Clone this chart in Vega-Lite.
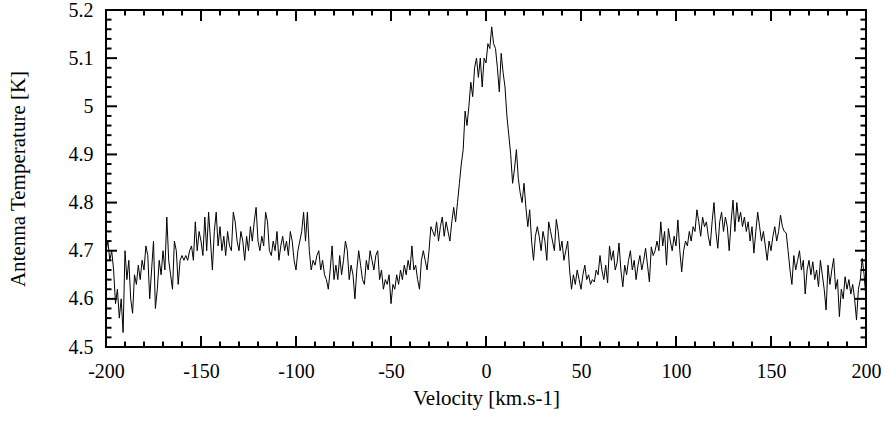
{
  "$schema": "https://vega.github.io/schema/vega-lite/v6.json",
  "autosize": "none",
  "width": 760,
  "height": 337,
  "padding": {"left": 106, "top": 10, "right": 19, "bottom": 74},
  "background": "white",
  "config": {
    "locale": {"number": {"decimal": ".", "thousands": ",", "grouping": [3], "currency": ["$", ""], "minus": "-"}},
    "view": {"stroke": "black", "strokeWidth": 2},
    "font": "Liberation Serif",
    "axis": {
      "grid": false,
      "domain": false,
      "ticks": false,
      "labelFont": "Liberation Serif",
      "labelFontSize": 20,
      "labelColor": "black",
      "labelFlush": false,
      "titleFont": "Liberation Serif",
      "titleFontSize": 21,
      "titleFontWeight": "normal",
      "titleColor": "black"
    }
  },
  "datasets": {
    "xmaj": [{"p":-200},{"p":-150},{"p":-100},{"p":-50},{"p":0},{"p":50},{"p":100},{"p":150},{"p":200}],
    "xmin": [{"p":-190},{"p":-180},{"p":-170},{"p":-160},{"p":-140},{"p":-130},{"p":-120},{"p":-110},{"p":-90},{"p":-80},{"p":-70},{"p":-60},{"p":-40},{"p":-30},{"p":-20},{"p":-10},{"p":10},{"p":20},{"p":30},{"p":40},{"p":60},{"p":70},{"p":80},{"p":90},{"p":110},{"p":120},{"p":130},{"p":140},{"p":160},{"p":170},{"p":180},{"p":190}],
    "ymaj": [{"p":4.5},{"p":4.6},{"p":4.7},{"p":4.8},{"p":4.9},{"p":5.0},{"p":5.1},{"p":5.2}],
    "ymin": [{"p":4.52},{"p":4.54},{"p":4.56},{"p":4.58},{"p":4.62},{"p":4.64},{"p":4.66},{"p":4.68},{"p":4.72},{"p":4.74},{"p":4.76},{"p":4.78},{"p":4.82},{"p":4.84},{"p":4.86},{"p":4.88},{"p":4.92},{"p":4.94},{"p":4.96},{"p":4.98},{"p":5.02},{"p":5.04},{"p":5.06},{"p":5.08},{"p":5.12},{"p":5.14},{"p":5.16},{"p":5.18}],
    "spec": [
{"v":-200,"t":4.70},{"v":-199,"t":4.72},{"v":-198,"t":4.68},{"v":-197,"t":4.70},{"v":-196,"t":4.66},{"v":-195,"t":4.59},{"v":-194,"t":4.62},{"v":-193,"t":4.56},{"v":-192,"t":4.60},{"v":-191,"t":4.53},
{"v":-190,"t":4.70},{"v":-189,"t":4.64},{"v":-188,"t":4.68},{"v":-187,"t":4.60},{"v":-186,"t":4.57},{"v":-185,"t":4.65},{"v":-184,"t":4.63},{"v":-183,"t":4.67},{"v":-182,"t":4.64},{"v":-181,"t":4.68},
{"v":-180,"t":4.66},{"v":-179,"t":4.71},{"v":-178,"t":4.69},{"v":-177,"t":4.60},{"v":-176,"t":4.66},{"v":-175,"t":4.72},{"v":-174,"t":4.58},{"v":-173,"t":4.62},{"v":-172,"t":4.68},{"v":-171,"t":4.65},
{"v":-170,"t":4.70},{"v":-169,"t":4.66},{"v":-168,"t":4.77},{"v":-167,"t":4.68},{"v":-166,"t":4.65},{"v":-165,"t":4.62},{"v":-164,"t":4.72},{"v":-163,"t":4.70},{"v":-162,"t":4.63},{"v":-161,"t":4.68},
{"v":-160,"t":4.69},{"v":-159,"t":4.68},{"v":-158,"t":4.69},{"v":-157,"t":4.68},{"v":-156,"t":4.70},{"v":-155,"t":4.71},{"v":-154,"t":4.68},{"v":-153,"t":4.76},{"v":-152,"t":4.70},{"v":-151,"t":4.74},
{"v":-150,"t":4.72},{"v":-149,"t":4.69},{"v":-148,"t":4.77},{"v":-147,"t":4.70},{"v":-146,"t":4.78},{"v":-145,"t":4.72},{"v":-144,"t":4.66},{"v":-143,"t":4.74},{"v":-142,"t":4.78},{"v":-141,"t":4.71},
{"v":-140,"t":4.75},{"v":-139,"t":4.70},{"v":-138,"t":4.73},{"v":-137,"t":4.69},{"v":-136,"t":4.74},{"v":-135,"t":4.71},{"v":-134,"t":4.70},{"v":-133,"t":4.78},{"v":-132,"t":4.76},{"v":-131,"t":4.72},
{"v":-130,"t":4.70},{"v":-129,"t":4.74},{"v":-128,"t":4.72},{"v":-127,"t":4.68},{"v":-126,"t":4.73},{"v":-125,"t":4.70},{"v":-124,"t":4.75},{"v":-123,"t":4.72},{"v":-122,"t":4.76},{"v":-121,"t":4.79},
{"v":-120,"t":4.72},{"v":-119,"t":4.70},{"v":-118,"t":4.73},{"v":-117,"t":4.71},{"v":-116,"t":4.78},{"v":-115,"t":4.76},{"v":-114,"t":4.70},{"v":-113,"t":4.69},{"v":-112,"t":4.72},{"v":-111,"t":4.70},
{"v":-110,"t":4.74},{"v":-109,"t":4.68},{"v":-108,"t":4.71},{"v":-107,"t":4.73},{"v":-106,"t":4.70},{"v":-105,"t":4.72},{"v":-104,"t":4.69},{"v":-103,"t":4.74},{"v":-102,"t":4.72},{"v":-101,"t":4.68},
{"v":-100,"t":4.66},{"v":-99,"t":4.70},{"v":-98,"t":4.72},{"v":-97,"t":4.74},{"v":-96,"t":4.78},{"v":-95,"t":4.72},{"v":-94,"t":4.78},{"v":-93,"t":4.70},{"v":-92,"t":4.66},{"v":-91,"t":4.68},
{"v":-90,"t":4.67},{"v":-89,"t":4.69},{"v":-88,"t":4.70},{"v":-87,"t":4.66},{"v":-86,"t":4.68},{"v":-85,"t":4.65},{"v":-84,"t":4.64},{"v":-83,"t":4.62},{"v":-82,"t":4.66},{"v":-81,"t":4.71},
{"v":-80,"t":4.64},{"v":-79,"t":4.67},{"v":-78,"t":4.64},{"v":-77,"t":4.69},{"v":-76,"t":4.65},{"v":-75,"t":4.68},{"v":-74,"t":4.72},{"v":-73,"t":4.70},{"v":-72,"t":4.64},{"v":-71,"t":4.67},
{"v":-70,"t":4.65},{"v":-69,"t":4.60},{"v":-68,"t":4.66},{"v":-67,"t":4.70},{"v":-66,"t":4.67},{"v":-65,"t":4.64},{"v":-64,"t":4.63},{"v":-63,"t":4.68},{"v":-62,"t":4.66},{"v":-61,"t":4.70},
{"v":-60,"t":4.68},{"v":-59,"t":4.66},{"v":-58,"t":4.69},{"v":-57,"t":4.70},{"v":-56,"t":4.64},{"v":-55,"t":4.66},{"v":-54,"t":4.62},{"v":-53,"t":4.64},{"v":-52,"t":4.63},{"v":-51,"t":4.65},
{"v":-50,"t":4.59},{"v":-49,"t":4.63},{"v":-48,"t":4.62},{"v":-47,"t":4.65},{"v":-46,"t":4.63},{"v":-45,"t":4.66},{"v":-44,"t":4.64},{"v":-43,"t":4.67},{"v":-42,"t":4.65},{"v":-41,"t":4.68},
{"v":-40,"t":4.66},{"v":-39,"t":4.71},{"v":-38,"t":4.66},{"v":-37,"t":4.67},{"v":-36,"t":4.64},{"v":-35,"t":4.62},{"v":-34,"t":4.68},{"v":-33,"t":4.70},{"v":-32,"t":4.68},{"v":-31,"t":4.66},
{"v":-30,"t":4.70},{"v":-29,"t":4.75},{"v":-28,"t":4.74},{"v":-27,"t":4.73},{"v":-26,"t":4.76},{"v":-25,"t":4.72},{"v":-24,"t":4.75},{"v":-23,"t":4.77},{"v":-22,"t":4.73},{"v":-21,"t":4.76},
{"v":-20,"t":4.74},{"v":-19,"t":4.72},{"v":-18,"t":4.76},{"v":-17,"t":4.79},{"v":-16,"t":4.76},{"v":-15,"t":4.80},{"v":-14,"t":4.84},{"v":-13,"t":4.88},{"v":-12,"t":4.91},{"v":-11,"t":4.99},
{"v":-10,"t":4.96},{"v":-9,"t":5.00},{"v":-8,"t":5.05},{"v":-7,"t":5.02},{"v":-6,"t":5.08},{"v":-5,"t":5.10},{"v":-4,"t":5.06},{"v":-3,"t":5.10},{"v":-2,"t":5.04},{"v":-1,"t":5.10},
{"v":0,"t":5.09},{"v":1,"t":5.13},{"v":2,"t":5.12},{"v":3,"t":5.165},{"v":4,"t":5.13},{"v":5,"t":5.12},{"v":6,"t":5.08},{"v":7,"t":5.03},{"v":8,"t":5.11},{"v":9,"t":5.07},
{"v":10,"t":5.04},{"v":11,"t":4.98},{"v":12,"t":4.94},{"v":13,"t":4.90},{"v":14,"t":4.84},{"v":15,"t":4.87},{"v":16,"t":4.91},{"v":17,"t":4.85},{"v":18,"t":4.82},{"v":19,"t":4.80},
{"v":20,"t":4.84},{"v":21,"t":4.79},{"v":22,"t":4.75},{"v":23,"t":4.785},{"v":24,"t":4.72},{"v":25,"t":4.68},{"v":26,"t":4.73},{"v":27,"t":4.75},{"v":28,"t":4.73},{"v":29,"t":4.70},
{"v":30,"t":4.74},{"v":31,"t":4.72},{"v":32,"t":4.68},{"v":33,"t":4.76},{"v":34,"t":4.74},{"v":35,"t":4.72},{"v":36,"t":4.70},{"v":37,"t":4.765},{"v":38,"t":4.74},{"v":39,"t":4.70},
{"v":40,"t":4.72},{"v":41,"t":4.68},{"v":42,"t":4.70},{"v":43,"t":4.72},{"v":44,"t":4.66},{"v":45,"t":4.62},{"v":46,"t":4.65},{"v":47,"t":4.63},{"v":48,"t":4.66},{"v":49,"t":4.64},
{"v":50,"t":4.62},{"v":51,"t":4.65},{"v":52,"t":4.67},{"v":53,"t":4.64},{"v":54,"t":4.65},{"v":55,"t":4.63},{"v":56,"t":4.64},{"v":57,"t":4.635},{"v":58,"t":4.66},{"v":59,"t":4.65},
{"v":60,"t":4.69},{"v":61,"t":4.66},{"v":62,"t":4.64},{"v":63,"t":4.67},{"v":64,"t":4.633},{"v":65,"t":4.71},{"v":66,"t":4.68},{"v":67,"t":4.70},{"v":68,"t":4.66},{"v":69,"t":4.675},
{"v":70,"t":4.716},{"v":71,"t":4.66},{"v":72,"t":4.625},{"v":73,"t":4.67},{"v":74,"t":4.65},{"v":75,"t":4.68},{"v":76,"t":4.70},{"v":77,"t":4.66},{"v":78,"t":4.68},{"v":79,"t":4.64},
{"v":80,"t":4.67},{"v":81,"t":4.69},{"v":82,"t":4.66},{"v":83,"t":4.68},{"v":84,"t":4.705},{"v":85,"t":4.67},{"v":86,"t":4.635},{"v":87,"t":4.708},{"v":88,"t":4.69},{"v":89,"t":4.70},
{"v":90,"t":4.72},{"v":91,"t":4.70},{"v":92,"t":4.76},{"v":93,"t":4.71},{"v":94,"t":4.74},{"v":95,"t":4.67},{"v":96,"t":4.746},{"v":97,"t":4.72},{"v":98,"t":4.70},{"v":99,"t":4.73},
{"v":100,"t":4.71},{"v":101,"t":4.764},{"v":102,"t":4.70},{"v":103,"t":4.656},{"v":104,"t":4.70},{"v":105,"t":4.72},{"v":106,"t":4.71},{"v":107,"t":4.74},{"v":108,"t":4.72},{"v":109,"t":4.75},
{"v":110,"t":4.74},{"v":111,"t":4.785},{"v":112,"t":4.76},{"v":113,"t":4.73},{"v":114,"t":4.77},{"v":115,"t":4.75},{"v":116,"t":4.76},{"v":117,"t":4.73},{"v":118,"t":4.71},{"v":119,"t":4.76},
{"v":120,"t":4.80},{"v":121,"t":4.74},{"v":122,"t":4.705},{"v":123,"t":4.76},{"v":124,"t":4.78},{"v":125,"t":4.74},{"v":126,"t":4.77},{"v":127,"t":4.75},{"v":128,"t":4.70},{"v":129,"t":4.76},
{"v":130,"t":4.805},{"v":131,"t":4.74},{"v":132,"t":4.80},{"v":133,"t":4.76},{"v":134,"t":4.78},{"v":135,"t":4.75},{"v":136,"t":4.77},{"v":137,"t":4.74},{"v":138,"t":4.76},{"v":139,"t":4.72},
{"v":140,"t":4.75},{"v":141,"t":4.695},{"v":142,"t":4.74},{"v":143,"t":4.78},{"v":144,"t":4.75},{"v":145,"t":4.72},{"v":146,"t":4.74},{"v":147,"t":4.71},{"v":148,"t":4.68},{"v":149,"t":4.72},
{"v":150,"t":4.70},{"v":151,"t":4.73},{"v":152,"t":4.75},{"v":153,"t":4.72},{"v":154,"t":4.74},{"v":155,"t":4.774},{"v":156,"t":4.75},{"v":157,"t":4.74},{"v":158,"t":4.737},{"v":159,"t":4.70},
{"v":160,"t":4.66},{"v":161,"t":4.63},{"v":162,"t":4.69},{"v":163,"t":4.66},{"v":164,"t":4.68},{"v":165,"t":4.70},{"v":166,"t":4.66},{"v":167,"t":4.68},{"v":168,"t":4.61},{"v":169,"t":4.66},
{"v":170,"t":4.68},{"v":171,"t":4.65},{"v":172,"t":4.677},{"v":173,"t":4.64},{"v":174,"t":4.66},{"v":175,"t":4.625},{"v":176,"t":4.68},{"v":177,"t":4.65},{"v":178,"t":4.62},{"v":179,"t":4.577},
{"v":180,"t":4.67},{"v":181,"t":4.63},{"v":182,"t":4.66},{"v":183,"t":4.684},{"v":184,"t":4.62},{"v":185,"t":4.64},{"v":186,"t":4.563},{"v":187,"t":4.62},{"v":188,"t":4.60},{"v":189,"t":4.646},
{"v":190,"t":4.62},{"v":191,"t":4.64},{"v":192,"t":4.61},{"v":193,"t":4.63},{"v":194,"t":4.60},{"v":195,"t":4.556},{"v":196,"t":4.62},{"v":197,"t":4.64},{"v":198,"t":4.684},{"v":199,"t":4.65},
{"v":200,"t":4.60}
    ]
  },
  "layer": [
    {
      "data": {"name": "spec"},
      "mark": {"type": "line", "color": "black", "strokeWidth": 1},
      "encoding": {
        "x": {
          "field": "v", "type": "quantitative",
          "scale": {"domain": [-200, 200], "nice": false},
          "axis": {
            "orient": "bottom",
            "title": "Velocity [km.s-1]",
            "titlePadding": 6,
            "labelPadding": 14,
            "format": "d",
            "values": [-200,-150,-100,-50,0,50,100,150,200]
          }
        },
        "y": {
          "field": "t", "type": "quantitative",
          "scale": {"domain": [4.5, 5.2], "nice": false, "zero": false},
          "axis": {
            "orient": "left",
            "title": "Antenna Temperature [K]",
            "titlePadding": 40,
            "labelPadding": 13,
            "format": ".1~f",
            "values": [4.5,4.6,4.7,4.8,4.9,5,5.1,5.2]
          }
        }
      }
    },
    {
      "data": {"name": "xmaj"},
      "mark": {"type": "rule", "color": "black", "strokeWidth": 2, "y2Offset": -11},
      "encoding": {
        "x": {"field": "p", "type": "quantitative", "axis": null},
        "y": {"datum": 4.5, "axis": null},
        "y2": {"datum": 4.5}
      }
    },
    {
      "data": {"name": "xmaj"},
      "mark": {"type": "rule", "color": "black", "strokeWidth": 2, "y2Offset": 11},
      "encoding": {
        "x": {"field": "p", "type": "quantitative", "axis": null},
        "y": {"datum": 5.2, "axis": null},
        "y2": {"datum": 5.2}
      }
    },
    {
      "data": {"name": "xmin"},
      "mark": {"type": "rule", "color": "black", "strokeWidth": 2, "y2Offset": -5.5},
      "encoding": {
        "x": {"field": "p", "type": "quantitative", "axis": null},
        "y": {"datum": 4.5, "axis": null},
        "y2": {"datum": 4.5}
      }
    },
    {
      "data": {"name": "xmin"},
      "mark": {"type": "rule", "color": "black", "strokeWidth": 2, "y2Offset": 5.5},
      "encoding": {
        "x": {"field": "p", "type": "quantitative", "axis": null},
        "y": {"datum": 5.2, "axis": null},
        "y2": {"datum": 5.2}
      }
    },
    {
      "data": {"name": "ymaj"},
      "mark": {"type": "rule", "color": "black", "strokeWidth": 2, "x2Offset": 11},
      "encoding": {
        "y": {"field": "p", "type": "quantitative", "axis": null},
        "x": {"datum": -200, "axis": null},
        "x2": {"datum": -200}
      }
    },
    {
      "data": {"name": "ymaj"},
      "mark": {"type": "rule", "color": "black", "strokeWidth": 2, "x2Offset": -11},
      "encoding": {
        "y": {"field": "p", "type": "quantitative", "axis": null},
        "x": {"datum": 200, "axis": null},
        "x2": {"datum": 200}
      }
    },
    {
      "data": {"name": "ymin"},
      "mark": {"type": "rule", "color": "black", "strokeWidth": 2, "x2Offset": 5.5},
      "encoding": {
        "y": {"field": "p", "type": "quantitative", "axis": null},
        "x": {"datum": -200, "axis": null},
        "x2": {"datum": -200}
      }
    },
    {
      "data": {"name": "ymin"},
      "mark": {"type": "rule", "color": "black", "strokeWidth": 2, "x2Offset": -5.5},
      "encoding": {
        "y": {"field": "p", "type": "quantitative", "axis": null},
        "x": {"datum": 200, "axis": null},
        "x2": {"datum": 200}
      }
    }
  ],
  "resolve": {"axis": {"x": "independent", "y": "independent"}}
}
